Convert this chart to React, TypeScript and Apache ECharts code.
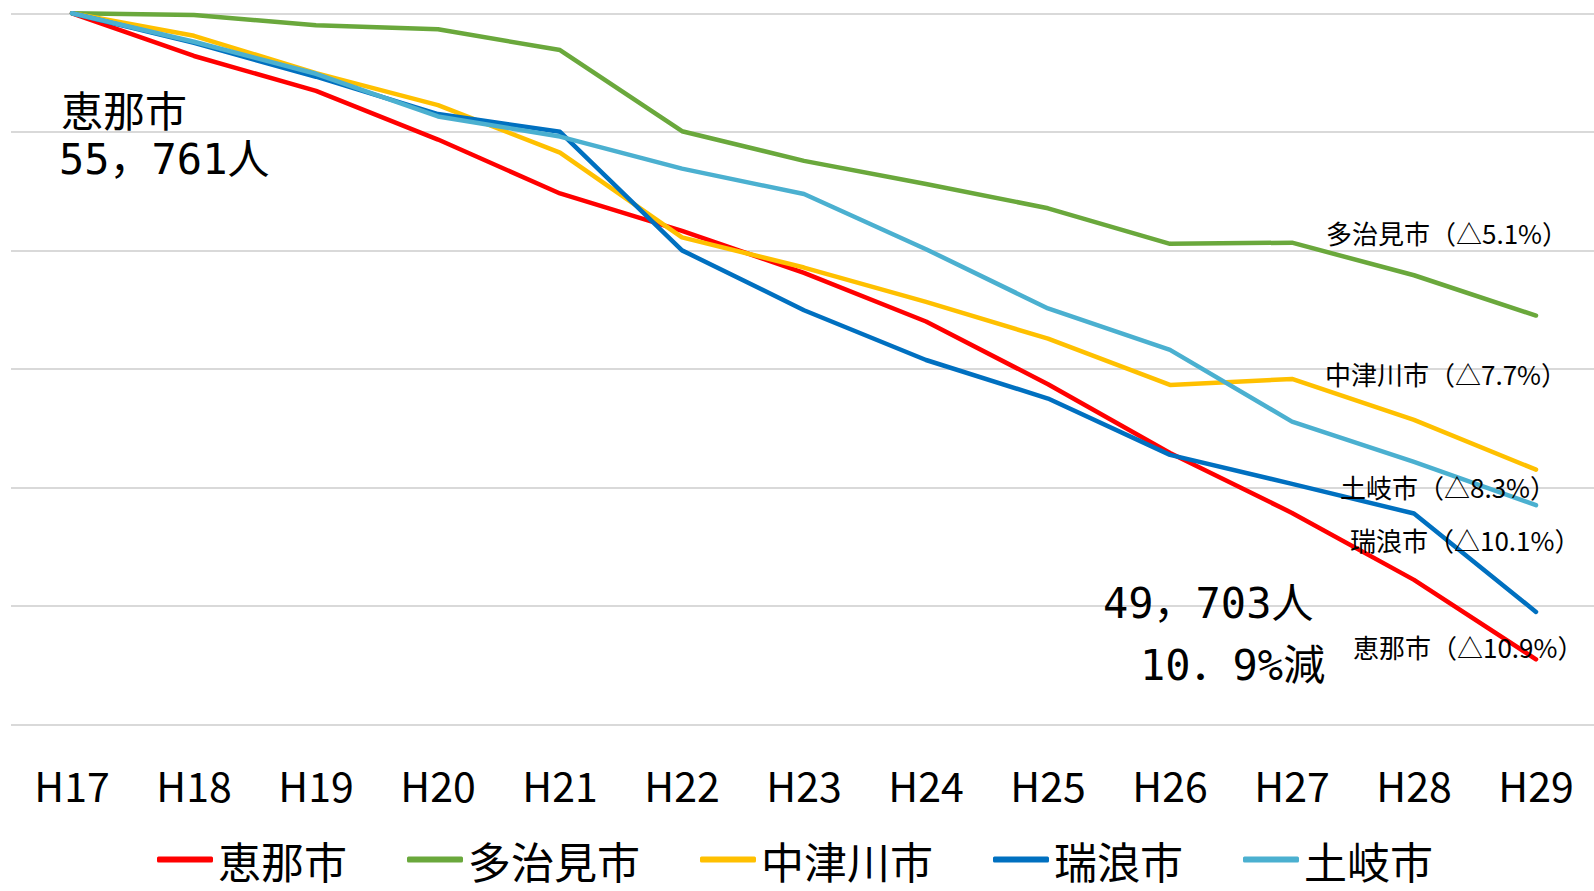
import React, { useEffect, useRef } from "react";
import * as echarts from "echarts";

const categories = ["H17", "H18", "H19", "H20", "H21", "H22", "H23", "H24", "H25", "H26", "H27", "H28", "H29"];
const seriesNames = ["恵那市", "多治見市", "中津川市", "瑞浪市", "土岐市"];
const enaValues = [100, 99.28, 98.69, 97.87, 96.96, 96.33, 95.62, 94.8, 93.74, 92.58, 91.57, 90.44, 89.1];
const tajimiValues = [100, 99.97, 99.8, 99.73, 99.38, 98.01, 97.51, 97.12, 96.71, 96.11, 96.13, 95.58, 94.9];
const nakatsugawaValues = [100, 99.62, 98.99, 98.45, 97.65, 96.22, 95.71, 95.13, 94.51, 93.73, 93.83, 93.14, 92.3];
const mizunamiValues = [100, 99.5, 98.93, 98.3, 98.0, 96.0, 94.99, 94.15, 93.5, 92.55, 92.06, 91.56, 89.9];
const tokiValues = [100, 99.52, 98.98, 98.26, 97.92, 97.38, 96.95, 96.02, 95.02, 94.32, 93.11, 92.43, 91.7];
const seriesColors = ["#FF0000", "#6AA83C", "#FFC000", "#0070C0", "#4BB0D0"];
const endLabels = ["恵那市（△10.9%）", "多治見市（△5.1%）", "中津川市（△7.7%）", "瑞浪市（△10.1%）", "土岐市（△8.3%）"];
const startNote = ["恵那市", "55，761人"];
const endNote = ["49，703人", "10．9%減"];

const FONT = '"Noto Sans CJK JP", "Noto Sans", sans-serif';
const NUM_FONT = '"DejaVu Sans Mono", "Noto Sans CJK JP", sans-serif';

export default function App() {
  const ref = useRef<HTMLDivElement>(null);
  useEffect(() => {
    if (!ref.current) return;
    const chart = echarts.init(ref.current, undefined, { renderer: "svg" });
    const allValues = [enaValues, tajimiValues, nakatsugawaValues, mizunamiValues, tokiValues];
    const txt = (text: string, x: number, y: number, size: number, family: string = FONT) => ({
      type: "text",
      style: { text, x, y, fill: "#000", fontSize: size, fontFamily: family, verticalAlign: "middle" },
      z: 100,
    });
    chart.setOption({
      animation: false,
      backgroundColor: "#ffffff",
      grid: { left: 11, top: 13.3, width: 1586, height: 711.2, containLabel: false },
      xAxis: {
        type: "category",
        data: categories,
        boundaryGap: true,
        axisLine: { show: false },
        axisTick: { show: false },
        axisLabel: { color: "#000", fontSize: 41, fontFamily: FONT, margin: 39 },
      },
      yAxis: {
        type: "value",
        min: 88,
        max: 100,
        interval: 2,
        axisLabel: { show: false },
        axisLine: { show: false },
        axisTick: { show: false },
        splitLine: { lineStyle: { color: "#D9D9D9", width: 2 } },
      },
      legend: {
        data: seriesNames,
        left: 152,
        top: 833,
        icon: "roundRect",
        itemWidth: 56,
        itemHeight: 6,
        itemGap: 60,
        textStyle: { color: "#000", fontSize: 43, lineHeight: 43, fontFamily: FONT },
      },
      series: seriesNames.map((name, i) => ({
        name,
        type: "line",
        data: allValues[i],
        symbol: "none",
        color: seriesColors[i],
        lineStyle: { color: seriesColors[i], width: 4.5, cap: "round", join: "round" },
      })),
      graphic: [
        txt(startNote[0], 61, 108, 42),
        txt(startNote[1], 59, 159, 42, NUM_FONT),
        txt(endNote[0], 1103, 603, 42, NUM_FONT),
        txt(endNote[1], 1140, 665, 42, NUM_FONT),
        txt(endLabels[1], 1326, 232, 26),
        txt(endLabels[2], 1325, 373, 26),
        txt(endLabels[4], 1340, 486, 26),
        txt(endLabels[3], 1350, 539, 26),
        txt(endLabels[0], 1353, 646, 26),
      ],
    });
    return () => chart.dispose();
  }, []);
  return <div ref={ref} style={{ position: "fixed", left: 0, top: 0, width: 1600, height: 891 }} />;
}
